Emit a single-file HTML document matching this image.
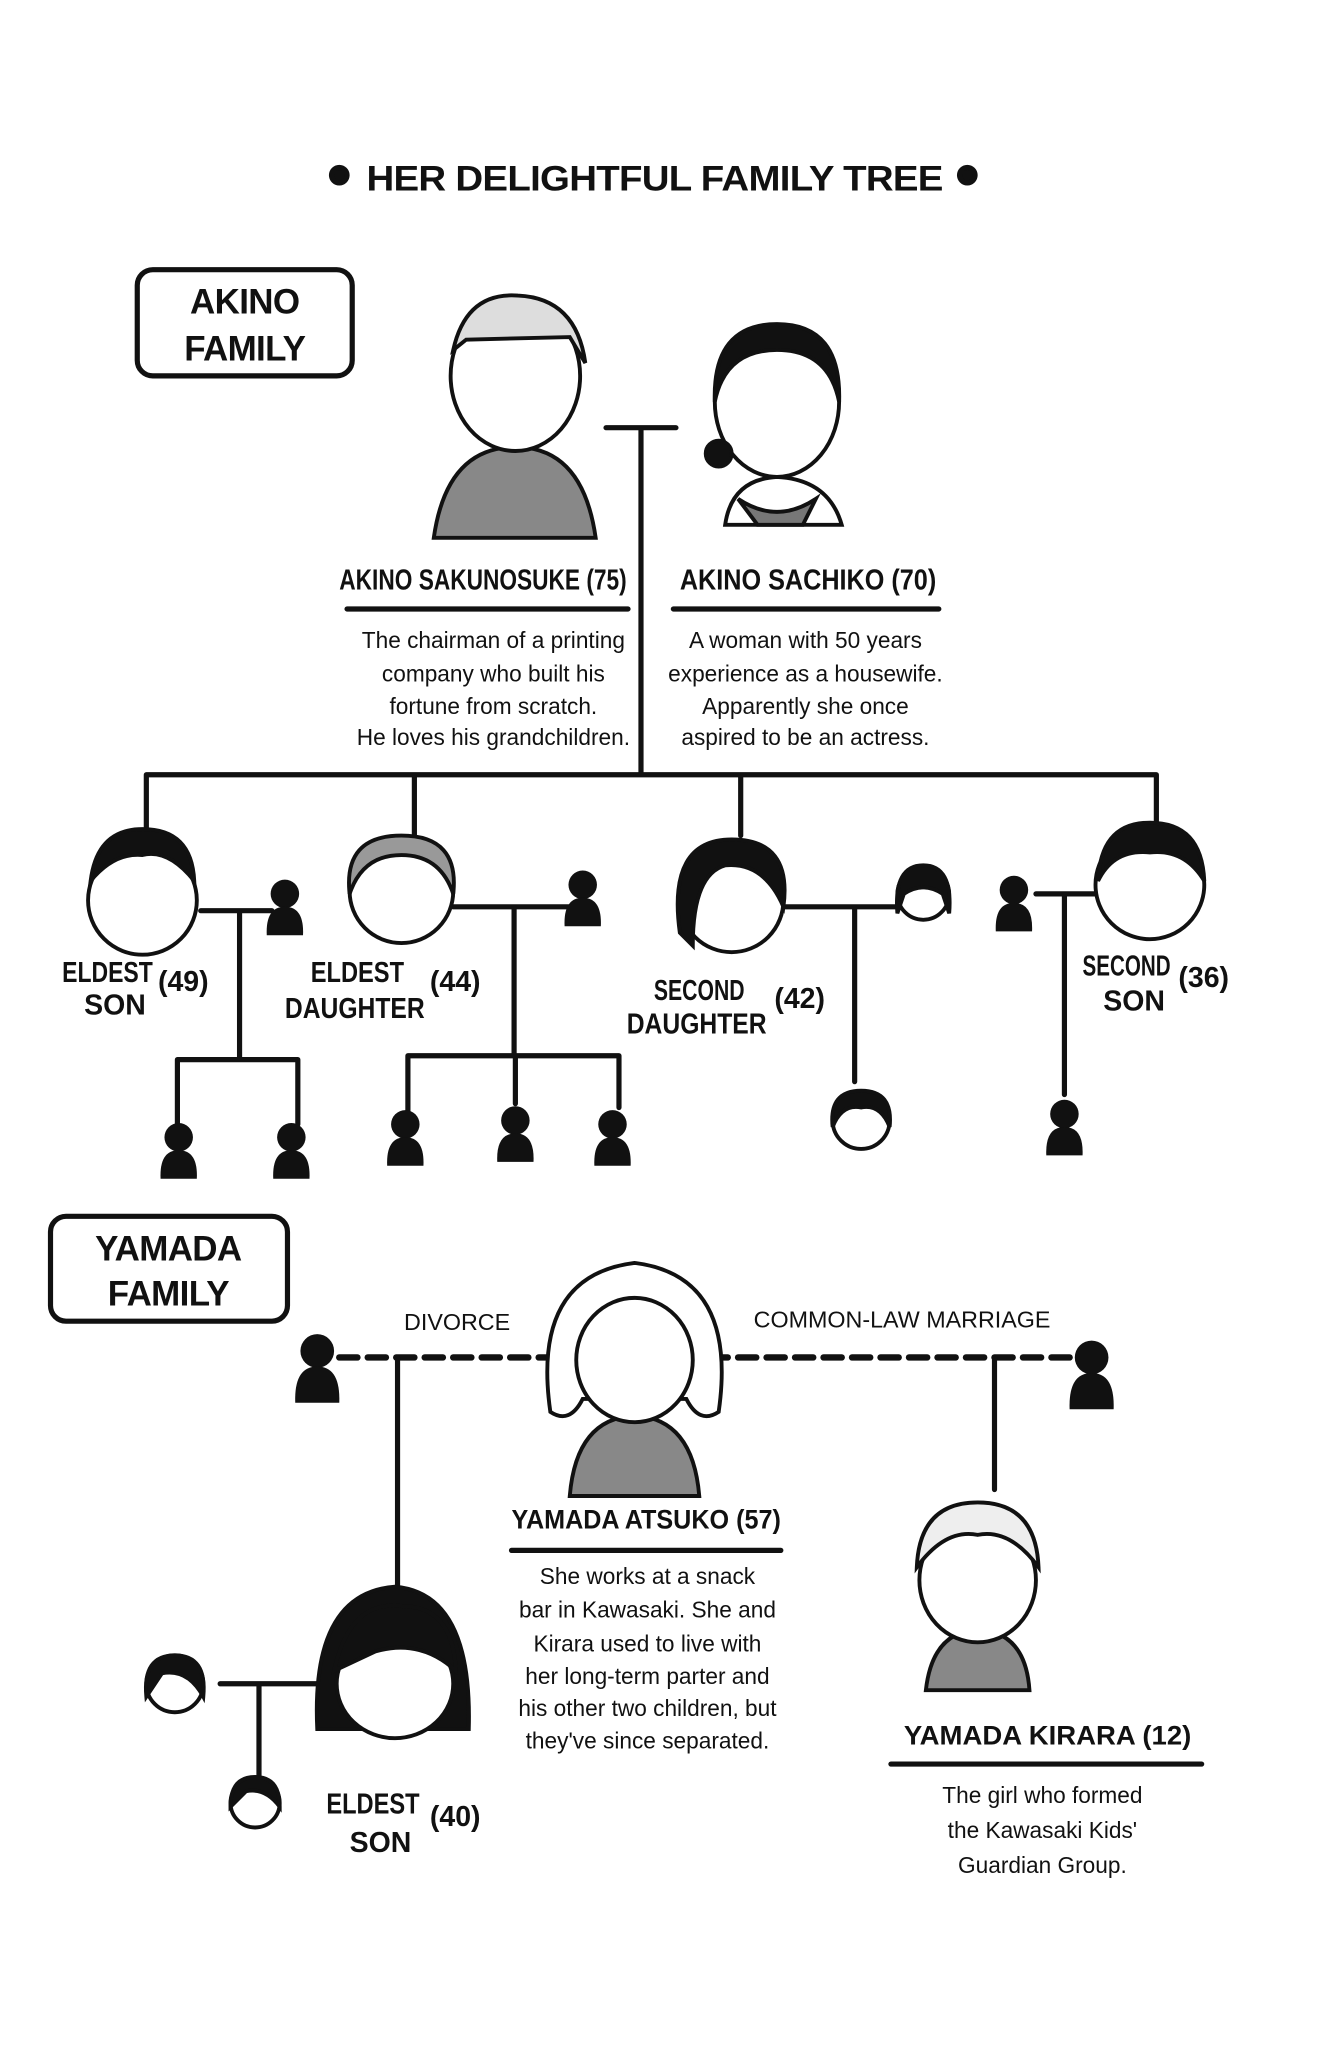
<!DOCTYPE html>
<html><head><meta charset="utf-8"><style>
html,body{margin:0;padding:0;background:#fff}
svg{display:block}
text{font-family:"Liberation Sans",sans-serif;fill:#111}
.t{font-weight:bold;font-size:27px;letter-spacing:-0.5px}
.n{font-size:22px;font-weight:bold}
.d{font-size:17.5px}
</style></head><body>
<svg width="1326" height="2048" viewBox="0 0 1024 1581" xmlns="http://www.w3.org/2000/svg">
<rect width="1024" height="1581" fill="#fff"/>
<g stroke="#111" fill="none" stroke-width="4" stroke-linecap="round">
<circle cx="262" cy="135" r="6" fill="#111"/><circle cx="747" cy="135" r="6" fill="#111"/>
<rect x="106" y="208" width="166" height="82" rx="12"/>
<rect x="39" y="939" width="183" height="81" rx="12"/>
<path d="M468 330H522M495 330V598M113 598H893M113 598V660M320 598V645M572 598V645M893 598V635"/>
<path d="M268 470H485M520 470H725"/>
<path d="M155 703H210M185 703V818M137 818H230M137 818V868M230 818V868"/>
<path d="M350 700H440M397 700V815M315 815H478M315 815V858M398 815V852M478 815V855"/>
<path d="M590 700H700M660 700V835"/>
<path d="M800 690H855M822 690V845"/>
<path d="M262 1048H830" stroke-dasharray="14 8" stroke-width="5"/>
<path d="M307 1048V1300M768 1048V1150M170 1300H260M200 1300V1372"/>
<path d="M395 1197H603M688 1362H928"/>
</g>
<g stroke="#111" stroke-width="3">
<path d="M335 415 Q345 345 398 345 Q450 345 460 415Z" fill="#888"/>
<ellipse cx="398" cy="290" rx="50" ry="58" fill="#fff"/>
<path d="M350 270 Q360 225 400 228 Q445 230 452 280 L440 260 L360 262Z" fill="#ddd"/>
<path d="M560 405 Q565 370 600 368 Q640 370 650 405Z" fill="#fff"/>
<path d="M570 385 Q600 405 630 385 L620 405 L585 405Z" fill="#777"/>
<ellipse cx="600" cy="310" rx="48" ry="58" fill="#fff"/>
<path d="M552 310 Q550 250 600 250 Q650 250 648 310 Q640 270 600 270 Q560 270 552 310Z" fill="#111"/>
<circle cx="555" cy="350" r="10" fill="#111"/>
<circle cx="110" cy="695" r="42" fill="#fff"/><path d="M70 680 Q75 640 110 640 Q148 640 150 680 Q130 655 110 660 Q88 658 70 680Z" fill="#111"/>
<circle cx="310" cy="688" r="40" fill="#fff"/><path d="M270 690 Q265 645 310 645 Q355 645 350 690 Q340 660 310 660 Q280 660 270 690Z" fill="#999"/>
<circle cx="565" cy="695" r="40" fill="#fff"/><path d="M525 720 Q515 648 565 648 Q612 648 605 700 Q590 665 560 668 Q535 675 535 730Z" fill="#111"/>
<circle cx="713" cy="690" r="20" fill="#fff"/><path d="M693 705 Q690 668 713 668 Q736 668 733 705 L728 690 Q713 680 698 690Z" fill="#111"/>
<circle cx="888" cy="683" r="42" fill="#fff"/><path d="M848 680 Q850 635 888 635 Q928 635 930 680 Q915 655 888 658 Q860 655 848 680Z" fill="#111"/>
<circle cx="665" cy="865" r="22" fill="#fff"/><path d="M643 870 Q640 842 665 842 Q690 842 687 870 Q680 852 665 855 Q650 852 643 870Z" fill="#111"/>
<path d="M440 1155 Q445 1095 490 1093 Q535 1095 540 1155Z" fill="#888"/>
<path d="M425 1090 Q410 985 490 975 Q570 985 555 1090 Q540 1100 530 1080 L450 1080 Q440 1100 425 1090Z" fill="#fff"/>
<ellipse cx="490" cy="1050" rx="45" ry="48" fill="#fff"/>
<path d="M715 1305 Q720 1260 755 1258 Q792 1260 795 1305Z" fill="#888"/>
<ellipse cx="755" cy="1220" rx="45" ry="48" fill="#fff"/>
<path d="M708 1210 Q710 1160 755 1160 Q800 1160 802 1210 Q780 1180 755 1185 Q730 1180 708 1210Z" fill="#eee"/>
<path d="M245 1335 Q240 1230 305 1225 Q365 1230 362 1335Z" fill="#111"/>
<ellipse cx="305" cy="1300" rx="45" ry="42" fill="#fff"/>
<path d="M258 1290 Q270 1235 310 1240 Q350 1240 352 1290 Q325 1265 290 1275Z" fill="#111"/>
<circle cx="135" cy="1300" r="22" fill="#fff"/><path d="M113 1310 Q110 1278 135 1278 Q160 1278 157 1310 Q145 1288 125 1292Z" fill="#111"/>
<circle cx="197" cy="1392" r="19" fill="#fff"/><path d="M178 1395 Q178 1372 197 1372 Q216 1372 216 1395 Q205 1380 190 1383Z" fill="#111"/>
</g>
<g fill="#111">
<g transform="translate(220,700)"><circle cx="0" cy="-10" r="11"/><path d="M-14 22 Q-15 0 0 0 Q15 0 14 22Z"/></g>
<g transform="translate(450,693)"><circle cx="0" cy="-10" r="11"/><path d="M-14 22 Q-15 0 0 0 Q15 0 14 22Z"/></g>
<g transform="translate(783,697)"><circle cx="0" cy="-10" r="11"/><path d="M-14 22 Q-15 0 0 0 Q15 0 14 22Z"/></g>
<g transform="translate(138,888)"><circle cx="0" cy="-10" r="11"/><path d="M-14 22 Q-15 0 0 0 Q15 0 14 22Z"/></g>
<g transform="translate(225,888)"><circle cx="0" cy="-10" r="11"/><path d="M-14 22 Q-15 0 0 0 Q15 0 14 22Z"/></g>
<g transform="translate(313,878)"><circle cx="0" cy="-10" r="11"/><path d="M-14 22 Q-15 0 0 0 Q15 0 14 22Z"/></g>
<g transform="translate(398,875)"><circle cx="0" cy="-10" r="11"/><path d="M-14 22 Q-15 0 0 0 Q15 0 14 22Z"/></g>
<g transform="translate(473,878)"><circle cx="0" cy="-10" r="11"/><path d="M-14 22 Q-15 0 0 0 Q15 0 14 22Z"/></g>
<g transform="translate(822,870)"><circle cx="0" cy="-10" r="11"/><path d="M-14 22 Q-15 0 0 0 Q15 0 14 22Z"/></g>
<g transform="translate(245,1055)"><circle cx="0" cy="-12" r="13"/><path d="M-17 28 Q-18 0 0 0 Q18 0 17 28Z"/></g>
<g transform="translate(843,1060)"><circle cx="0" cy="-12" r="13"/><path d="M-17 28 Q-18 0 0 0 Q18 0 17 28Z"/></g>
</g>
<text x="283" y="147" class="t" font-size="34" textLength="445" lengthAdjust="spacingAndGlyphs">HER DELIGHTFUL FAMILY TREE</text>
<text x="189" y="242" class="t" text-anchor="middle">AKINO</text>
<text x="189" y="278" class="t" text-anchor="middle">FAMILY</text>
<text x="130" y="973" class="t" text-anchor="middle">YAMADA</text>
<text x="130" y="1008" class="t" text-anchor="middle">FAMILY</text>
<text x="262" y="455" class="n" textLength="222" lengthAdjust="spacingAndGlyphs">AKINO SAKUNOSUKE (75)</text>
<text x="525" y="455" class="n" textLength="198" lengthAdjust="spacingAndGlyphs">AKINO SACHIKO (70)</text>
<g class="d" text-anchor="middle">
<text x="381" y="500">The chairman of a printing</text>
<text x="381" y="526">company who built his</text>
<text x="381" y="551">fortune from scratch.</text>
<text x="381" y="575">He loves his grandchildren.</text>
<text x="622" y="500">A woman with 50 years</text>
<text x="622" y="526">experience as a housewife.</text>
<text x="622" y="551">Apparently she once</text>
<text x="622" y="575">aspired to be an actress.</text>
<text x="500" y="1223">She works at a snack</text>
<text x="500" y="1249">bar in Kawasaki. She and</text>
<text x="500" y="1275">Kirara used to live with</text>
<text x="500" y="1300">her long-term parter and</text>
<text x="500" y="1325">his other two children, but</text>
<text x="500" y="1350">they've since separated.</text>
<text x="805" y="1392">The girl who formed</text>
<text x="805" y="1419">the Kawasaki Kids'</text>
<text x="805" y="1446">Guardian Group.</text>
</g>
<g class="n" font-size="19">
<text x="48" y="758" textLength="70" lengthAdjust="spacingAndGlyphs">ELDEST</text><text x="65" y="783">SON</text><text x="122" y="765">(49)</text>
<text x="240" y="758" textLength="72" lengthAdjust="spacingAndGlyphs">ELDEST</text><text x="220" y="786" textLength="108" lengthAdjust="spacingAndGlyphs">DAUGHTER</text><text x="332" y="765">(44)</text>
<text x="505" y="772" textLength="70" lengthAdjust="spacingAndGlyphs">SECOND</text><text x="484" y="798" textLength="108" lengthAdjust="spacingAndGlyphs">DAUGHTER</text><text x="598" y="778">(42)</text>
<text x="836" y="753" textLength="68" lengthAdjust="spacingAndGlyphs">SECOND</text><text x="852" y="780">SON</text><text x="910" y="762">(36)</text>
<text x="312" y="1027" font-weight="normal" font-size="18">DIVORCE</text>
<text x="582" y="1025" font-weight="normal" font-size="18">COMMON-LAW MARRIAGE</text>
<text x="395" y="1180" font-size="21" textLength="208" lengthAdjust="spacingAndGlyphs">YAMADA ATSUKO (57)</text>
<text x="698" y="1347" font-size="21" textLength="222" lengthAdjust="spacingAndGlyphs">YAMADA KIRARA (12)</text>
<text x="252" y="1400" textLength="72" lengthAdjust="spacingAndGlyphs">ELDEST</text><text x="270" y="1430">SON</text><text x="332" y="1410">(40)</text>
</g>
</svg>
</body></html>
